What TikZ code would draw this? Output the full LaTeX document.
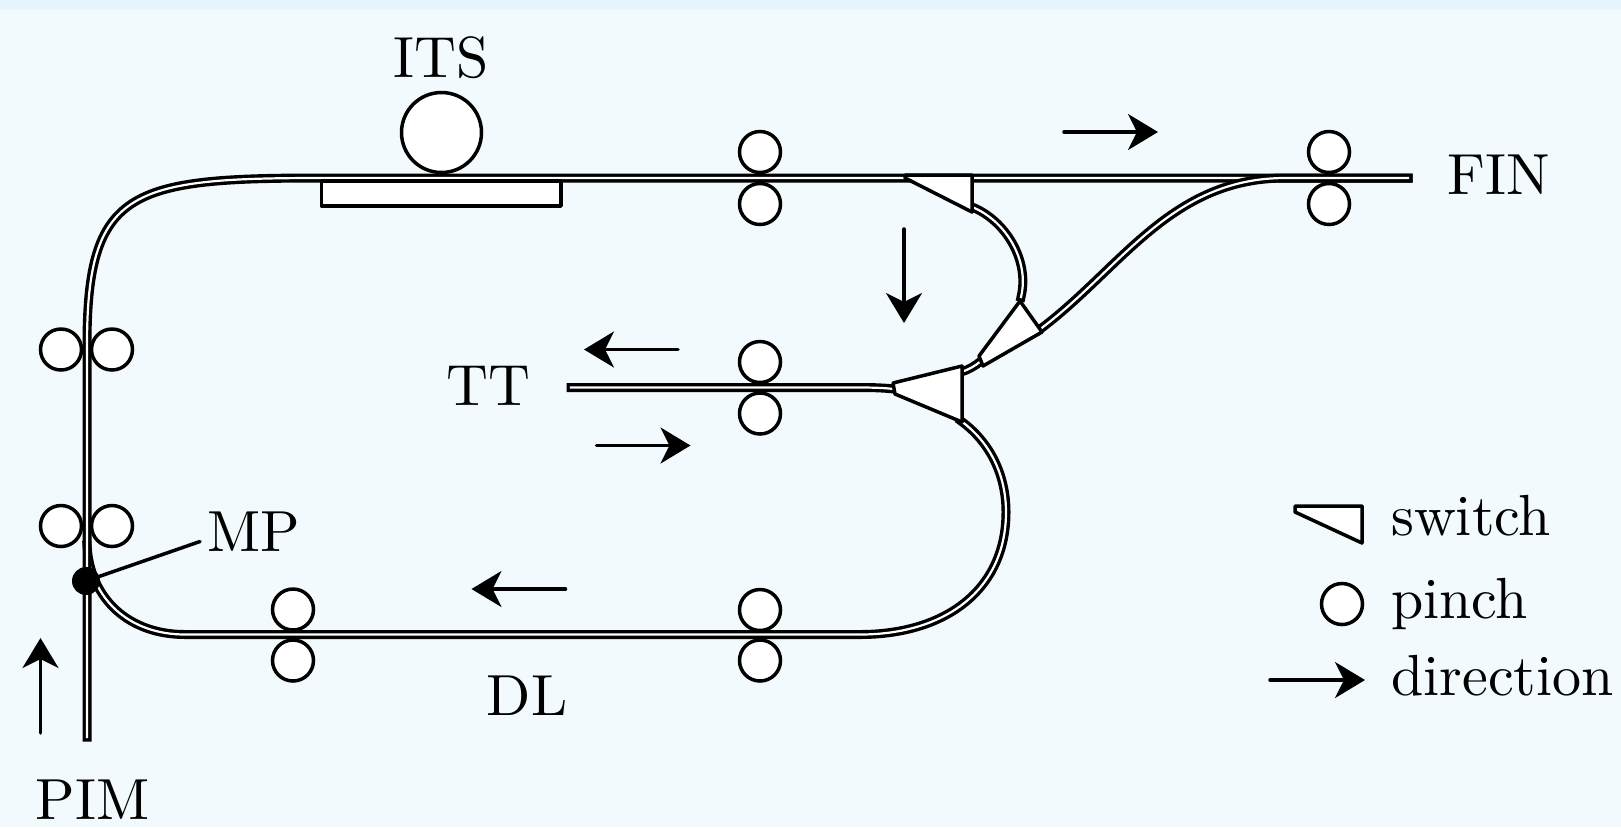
\documentclass[tikz,border=0pt]{standalone}
\usepackage{xcolor}
\usetikzlibrary{positioning,arrows.meta,calc}
\definecolor{pagebg}{RGB}{242,250,253}
\definecolor{stripbg}{RGB}{230,245,251}

\begin{document}
\begin{tikzpicture}[x=0.5pt, y=-0.5pt,
      track/.style={draw, line width=4.5pt, line cap=rect, line join=round,
                    postaction={draw, white, line width=1.1pt}},
      roller/.style={draw, circle, fill=white, line width=1.75pt, minimum size=20.5pt, inner sep=0pt},
      swtch/.style={draw, fill=white, line width=1.75pt, line join=round},
      arr/.style={-{Stealth[length=15pt, width=18pt, inset=4.5pt]}, line width=1.75pt, line cap=round},
      lab/.style={inner sep=0pt, anchor=base, scale=2.9, transform shape},
      legend/.style={inner sep=0pt, anchor=base west, scale=2.9, transform shape}]
    \useasboundingbox (0,0) rectangle (1621,827);
    \fill[pagebg] (0,0) rectangle (1621,827);
    \fill[stripbg] (0,0) rectangle (1621,10);

    \coordinate (pimend) at (87,737);
    \coordinate (finend) at (1408,178);
    \coordinate (ttend) at (571,387.5);
    \coordinate (swaout) at (972,207);
    \coordinate (swbin) at (1021,297);
    \coordinate (swbout) at (1039,330);
    \coordinate (swbtail) at (981,361);
    \coordinate (swchead) at (961,372);
    \coordinate (swcout) at (961,421);
    \coordinate (swctail) at (894,389);

    \draw[track] (swcout) .. controls (990,442) and (1006,475) .. (1006,512)
          .. controls (1006,590) and (945,634.5) .. (860,634.5) -- (185,634.5)
          .. controls (130,634.5) and (90,600) .. (87,545);
    \draw[track] (pimend) -- (87,345) .. controls (87,190) and (130,178) .. (320,178) -- (finend);
    \draw[track] (swaout) .. controls (1005,220) and (1030,260) .. (swbin);
    \draw[track] (swbout) .. controls (1120,270) and (1170,178) .. (1285,178) -- (finend);
    \draw[track] (ttend) -- (860,387.5) .. controls (875,387.5) and (885,388) .. (swctail);
    \draw[track] (swchead) .. controls (968,370) and (975,366) .. (swbtail);

    \draw[swtch] (905,178) -- (905,175) -- (972,175) -- (972,212) -- cycle;
    \draw[swtch] (1020,301) -- (1042,332) -- (983,366) -- (979,356) -- cycle;
    \draw[swtch] (893,383) -- (962,366) -- (962,422) -- (895,394) -- cycle;
    \draw[swtch, fill=white] (321.5,181) rectangle (561,206);

    \node[draw, circle, fill=white, line width=1.75pt, minimum size=40pt, inner sep=0pt] (its) at (441.5,132.5) {};

    \node[roller] (topa) at (760,152) {};
    \node[roller] (topb) at (760,204) {};
    \node[roller] (fina) at (1329,152) {};
    \node[roller] (finb) at (1329,204) {};
    \node[roller] (tta) at (760,362) {};
    \node[roller] (ttb) at (760,413.5) {};
    \node[roller] (dla) at (760,610) {};
    \node[roller] (dlb) at (760,660.5) {};
    \node[roller] (dlc) at (293,609.5) {};
    \node[roller] (dld) at (293,660.5) {};
    \node[roller] (pima) at (61,349.5) {};
    \node[roller] (pimb) at (112,349.5) {};
    \node[roller] (pimc) at (61,526) {};
    \node[roller] (pimd) at (112,526) {};

    \node[lab] (itslab) at (441.5,77.5) {ITS};
    \node[lab] (finlab) at (1498.5,194.5) {FIN};
    \node[lab] (ttlab) at (488,405) {TT};
    \node[lab] (dllab) at (527,715.5) {DL};
    \node[lab] (pimlab) at (92.5,819) {PIM};
    \node[lab] (mplab) at (254,551.5) {MP};

    \node[circle, fill=black, minimum size=14pt, inner sep=0pt] (mpdot) at (86,581) {};
    \coordinate (mpend) at (200,541.5);
    \draw[line width=1.75pt, line cap=round] (mpdot.center) -- (mpend);

    \draw[arr] (1064,132) -- (1158,132);
    \draw[arr] (904,229) -- (904,323);
    \draw[arr] (678,349.5) -- (584,349.5);
    \draw[arr] (596.5,445.5) -- (690.5,445.5);
    \draw[arr] (565.5,589) -- (471.5,589);
    \draw[arr] (40.5,733) -- (40.5,638);

    \draw[swtch] (1295,506) -- (1362,506) -- (1362,543) -- (1295,512) -- cycle;
    \node[roller] (legpinch) at (1342,604) {};
    \draw[arr] (1270,680) -- (1365,680);
    \node[legend] (legswitch) at (1390,535.5) {switch};
    \node[legend] (legpin) at (1390,618) {pinch};
    \node[legend] (legdir) at (1390,695) {direction};
  \end{tikzpicture}
\end{document}
